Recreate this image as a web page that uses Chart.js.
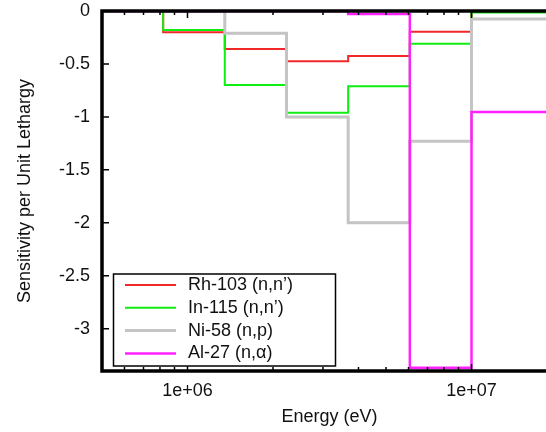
<!DOCTYPE html>
<html><head><meta charset="utf-8">
<script src="https://cdn.jsdelivr.net/npm/chart.js@4.4.1/dist/chart.umd.min.js"></script>
<style>
html,body{margin:0;padding:0;overflow:hidden;background:#fff;width:546px;height:432px}
canvas{display:block}
</style></head>
<body>
<canvas id="c" width="560" height="432" style="width:560px;height:432px"></canvas>
<script>
// Group boundaries (eV) and sensitivities per group
const energyEdges = [5e5, 8.21e5, 1.353e6, 2.231e6, 3.679e6, 6.065e6, 1e7, 2e7];
const rh103 = [0, -0.20, -0.36, -0.475, -0.425, -0.195, 0];
const in115 = [0, -0.18, -0.70, -0.96, -0.71, -0.31, -0.015];
const ni58  = [0, 0, -0.21, -1.0, -2.0, -1.23, -0.075];
const al27  = [0, 0, 0, 0, -0.028, -3.37, -0.955];
const seriesLabels = ['Rh-103 (n,n\u2019)', 'In-115 (n,n\u2019)', 'Ni-58 (n,p)', 'Al-27 (n,\u03b1)'];
const seriesColors = ['#f02828', '#10ee10', '#c4c4c4', '#ff22ff'];
const seriesWidths = [2, 2, 3, 2.5];
const yTicks = [0, -0.5, -1, -1.5, -2, -2.5, -3];
const xMajorTicks = [1e6, 1e7];
const xTickLabels = ['1e+06', '1e+07'];
const xMinorTicks = [6e5, 7e5, 8e5, 9e5, 2e6, 3e6, 4e6, 5e6, 6e6, 7e6, 8e6, 9e6];

const FONT = '"Liberation Sans", Arial, Helvetica, sans-serif';

function toSteps(vals) {
  return energyEdges.map((e, i) => ({x: e, y: vals[Math.min(i, vals.length - 1)]}));
}
const allSeries = [rh103, in115, ni58, al27];

function noPad(s) {
  s.paddingTop = 0; s.paddingBottom = 0; s.paddingLeft = 0; s.paddingRight = 0;
}

const framePlugin = {
  id: 'frame',
  afterDatasetsDraw(chart) {
    const ctx = chart.ctx;
    const a = chart.chartArea;
    const xs = chart.scales.x, ys = chart.scales.y;
    ctx.save();
    ctx.strokeStyle = '#000';
    // inward ticks
    ctx.lineWidth = 1.5;
    ctx.beginPath();
    xMajorTicks.forEach(v => {
      const px = xs.getPixelForValue(v);
      ctx.moveTo(px, a.bottom); ctx.lineTo(px, a.bottom - 7);
      ctx.moveTo(px, a.top); ctx.lineTo(px, a.top + 7);
    });
    xMinorTicks.forEach(v => {
      const px = xs.getPixelForValue(v);
      ctx.moveTo(px, a.bottom); ctx.lineTo(px, a.bottom - 4);
      ctx.moveTo(px, a.top); ctx.lineTo(px, a.top + 4);
    });
    yTicks.forEach(v => {
      const py = ys.getPixelForValue(v);
      ctx.moveTo(a.left, py); ctx.lineTo(a.left + 7, py);
      ctx.moveTo(a.right, py); ctx.lineTo(a.right - 7, py);
    });
    ctx.stroke();
    // frame
    ctx.lineWidth = 3.5;
    ctx.strokeRect(a.left, a.top, a.right - a.left, a.bottom - a.top);
    // legend
    const bx = 113.5, by = 274, bw = 222, bh = 92;
    ctx.fillStyle = '#fff';
    ctx.fillRect(bx, by, bw, bh);
    ctx.lineWidth = 1.5;
    ctx.strokeRect(bx, by, bw, bh);
    ctx.font = '18px ' + FONT;
    ctx.textBaseline = 'middle';
    ctx.textAlign = 'left';
    seriesLabels.forEach((lab, i) => {
      const y = 285 + i * 22.8;
      ctx.strokeStyle = seriesColors[i];
      ctx.lineWidth = seriesWidths[i];
      ctx.beginPath(); ctx.moveTo(125, y); ctx.lineTo(176, y); ctx.stroke();
      ctx.fillStyle = '#111';
      ctx.fillText(lab, 188, y);
    });
    ctx.restore();
  }
};

new Chart(document.getElementById('c'), {
  type: 'line',
  data: {
    datasets: allSeries.map((vals, i) => ({
      label: seriesLabels[i],
      data: toSteps(vals),
      stepped: 'before',
      borderColor: seriesColors[i],
      borderWidth: seriesWidths[i],
      pointRadius: 0,
      fill: false,
      order: 4 - i
    }))
  },
  options: {
    responsive: false,
    animation: false,
    devicePixelRatio: 1,
    layout: {padding: {top: 11, right: 3, left: 0, bottom: 0}},
    plugins: {legend: {display: false}, tooltip: {enabled: false}},
    scales: {
      x: {
        type: 'logarithmic',
        min: 5e5, max: 2e7,
        grid: {display: false, drawTicks: false},
        border: {display: false},
        afterBuildTicks: s => { s.ticks = xMajorTicks.map(v => ({value: v})); },
        afterFit: s => { s.height = 61; noPad(s); },
        ticks: {
          autoSkip: false, maxRotation: 0, padding: 9,
          color: '#111', font: {family: FONT, size: 18},
          callback: (v, i) => xTickLabels[i]
        },
        title: {display: true, text: 'Energy (eV)', color: '#111',
          font: {family: FONT, size: 18}, padding: {top: 0, bottom: 4}}
      },
      y: {
        type: 'linear',
        min: -3.4, max: 0,
        grid: {display: false, drawTicks: false},
        border: {display: false},
        afterBuildTicks: s => { s.ticks = yTicks.map(v => ({value: v})); },
        afterFit: s => { s.width = 102; noPad(s); },
        ticks: {
          padding: 12, color: '#111', font: {family: FONT, size: 18},
          callback: v => String(v)
        },
        title: {display: true, text: 'Sensitivity per Unit Lethargy', color: '#111',
          font: {family: FONT, size: 18}, padding: {top: 14, bottom: 0}}
      }
    }
  },
  plugins: [framePlugin]
});
</script>
</body></html>
